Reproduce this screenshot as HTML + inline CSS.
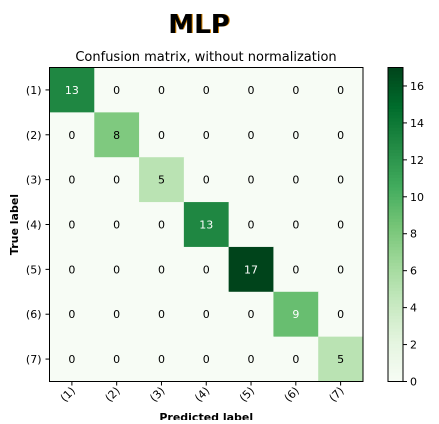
<!DOCTYPE html>
<html><head><meta charset="utf-8"><style>
body{margin:0;background:#fff;width:439px;height:420px;overflow:hidden;font-family:"DejaVu Sans","Liberation Sans",sans-serif}
</style></head><body>
<svg width="439" height="420" xmlns="http://www.w3.org/2000/svg">
<text x="200" y="33" font-size="26" font-weight="bold" text-anchor="middle" fill="#d08000">MLP</text>
<text x="199" y="33" font-size="26" font-weight="bold" text-anchor="middle" fill="#000">MLP</text>
<text x="206" y="61" font-size="13" text-anchor="middle">Confusion matrix, without normalization</text>
</svg>
<script>
const labels=["(1)","(2)","(3)","(4)","(5)","(6)","(7)"];
const matrix=[[13,0,0,0,0,0,0],[0,8,0,0,0,0,0],[0,0,5,0,0,0,0],[0,0,0,13,0,0,0],[0,0,0,0,17,0,0],[0,0,0,0,0,9,0],[0,0,0,0,0,0,5]];
const cbarTicks=[0,2,4,6,8,10,12,14,16];
const vmax=17;
const NS="http://www.w3.org/2000/svg";
const svg=document.querySelector('svg');
const stops=["#f7fcf5","#e5f5e0","#c7e9c0","#a1d99b","#74c476","#41ab5d","#238b45","#006d2c","#00441b"];
function h2r(h){return [1,3,5].map(i=>parseInt(h.substr(i,2),16));}
function cmap(t){t=Math.max(0,Math.min(1,t));const p=t*8,i=Math.min(7,Math.floor(p)),f=p-i;const a=h2r(stops[i]),b=h2r(stops[i+1]);return `rgb(${a.map((v,k)=>Math.round(v+(b[k]-v)*f)).join(',')})`;}
function el(t,a,txt){const e=document.createElementNS(NS,t);for(const k in a)e.setAttribute(k,a[k]);if(txt!==undefined)e.textContent=txt;svg.appendChild(e);return e;}
const X0=49.5,Y0=67.5,W=313.5,H=314,n=labels.length,cw=W/n,ch=H/n;
const xs=j=>X0+j*cw, ys=i=>Y0+i*ch;
matrix.forEach((row,i)=>row.forEach((v,j)=>{
 const r=el('rect',{x:xs(j),y:ys(i),width:cw+0.5,height:ch+0.5,fill:cmap(v/vmax)});
 
 
 const t=el('text',{x:xs(j)+cw/2,y:ys(i)+ch/2+4,'font-size':11,'text-anchor':'middle',fill:v>vmax/2?'#fff':'#000'},v);
 
 
}));
const fr=el('rect',{x:X0,y:Y0,width:W,height:H,fill:'none',stroke:'#000','stroke-width':1});


labels.forEach((l,i)=>{
 const cy=ys(i)+ch/2;
 el('line',{x1:X0-4,x2:X0,y1:cy,y2:cy,stroke:'#000'});
 const t=el('text',{x:X0-8,y:cy+4,'font-size':11,'text-anchor':'end'},l);
 
 
 const cx=xs(i)+cw/2;
 el('line',{x1:cx,x2:cx,y1:Y0+H,y2:Y0+H+4,stroke:'#000'});
 const u=el('text',{x:cx+4,y:Y0+H+10,'font-size':11,'text-anchor':'end',transform:`rotate(-45 ${cx+4} ${Y0+H+10})`},l);
 
 
});
const xt=el('text',{x:X0+W/2,y:421,'font-size':11,'font-weight':'bold','text-anchor':'middle'},'Predicted label');


const yt=el('text',{x:0,y:0,'font-size':11,'font-weight':'bold','text-anchor':'middle',transform:`translate(18 ${Y0+H/2}) rotate(-90)`},'True label');


const CX=388,CW=15,CY=67.5,CH=314,N=100;
for(let k=0;k<N;k++){const r=el('rect',{x:CX,y:CY+CH-(k+1)*CH/N,width:CW,height:CH/N+0.6,fill:cmap((k+0.5)/N)});
 
 }
const cb=el('rect',{x:CX,y:CY,width:CW,height:CH,fill:'none',stroke:'#000'});


cbarTicks.forEach(v=>{const y=CY+CH-v/vmax*CH;
 el('line',{x1:CX+CW,x2:CX+CW+4,y1:y,y2:y,stroke:'#000'});
 const t=el('text',{x:CX+CW+7,y:y+4,'font-size':11},v);
 
 });
</script>
</body></html>
